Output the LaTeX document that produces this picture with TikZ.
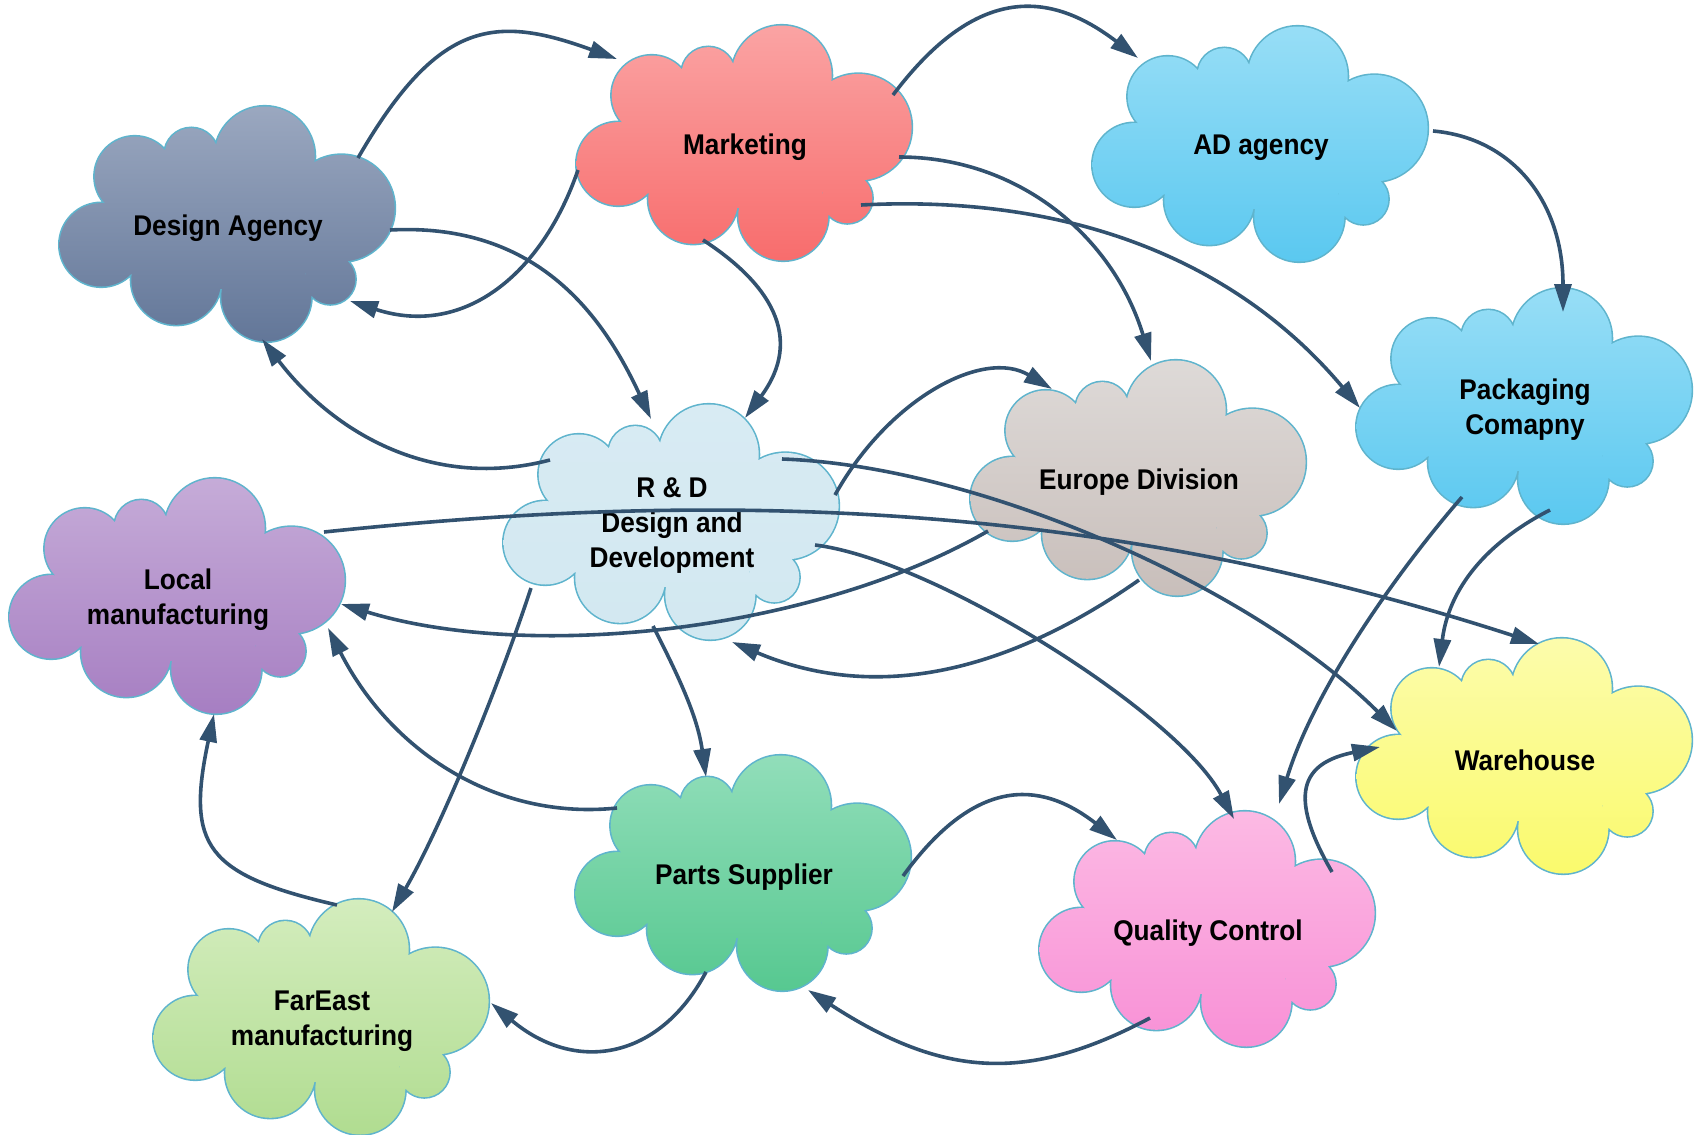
\documentclass[tikz,border=0pt]{standalone}
\usepackage{fontspec}
\setmainfont{Liberation Sans}[FakeStretch=0.92]
\usetikzlibrary{arrows.meta,calc}
\definecolor{arrowc}{RGB}{50,82,112}
\definecolor{cloudedge}{RGB}{95,180,205}
\definecolor{daT}{RGB}{155,168,192}\definecolor{daB}{RGB}{98,118,152}
\definecolor{mkT}{RGB}{250,164,164}\definecolor{mkB}{RGB}{248,108,108}
\definecolor{adT}{RGB}{152,222,246}\definecolor{adB}{RGB}{90,200,240}
\definecolor{euT}{RGB}{222,218,216}\definecolor{euB}{RGB}{200,190,186}
\definecolor{rdT}{RGB}{216,235,243}\definecolor{rdB}{RGB}{210,232,241}
\definecolor{lmT}{RGB}{198,172,216}\definecolor{lmB}{RGB}{166,126,194}
\definecolor{whT}{RGB}{252,252,172}\definecolor{whB}{RGB}{250,250,108}
\definecolor{psT}{RGB}{146,222,186}\definecolor{psB}{RGB}{86,200,144}
\definecolor{qcT}{RGB}{252,186,228}\definecolor{qcB}{RGB}{248,144,214}
\definecolor{feT}{RGB}{212,237,190}\definecolor{feB}{RGB}{176,220,144}
\newcommand\cloudbody[4]{%
  \begin{scope}[shift={(#1,#2)}]
    \draw[cloudedge, line width=3.2pt]
      (-126.7,-20.8) circle (41.7pt) (-51.7,-55.8) circle (45pt)
      (38.3,-72.5) circle (45pt) (102.3,-55.2) circle (25pt)
      (113.3,15.8) circle (53.3pt) (36.7,67.5) circle (50pt)
      (-36.7,69.2) circle (26.7pt) (-93.3,47.5) circle (40pt);
    \begin{scope}
      \clip
      (-126.7,-20.8) circle (41.7pt) (-51.7,-55.8) circle (45pt)
      (38.3,-72.5) circle (45pt) (102.3,-55.2) circle (25pt)
      (113.3,15.8) circle (53.3pt) (36.7,67.5) circle (50pt)
      (-36.7,69.2) circle (26.7pt) (-93.3,47.5) circle (40pt)
      (0,0) ellipse (120pt and 65pt);
      \shade[top color=#3, bottom color=#4] (-175,-120) rectangle (175,120);
    \end{scope}
  \end{scope}}
\begin{document}
\begin{tikzpicture}[x=1pt,y=1pt,
  lbl/.style={font=\bfseries\fontsize{28.5}{35}\selectfont, align=center, text=black, inner sep=0pt},
  conn/.style={draw=arrowc, line width=3.6pt, -{Triangle[length=28pt,width=17pt]}}]
\useasboundingbox (0,0) rectangle (1698,-1135);
% clouds
\cloudbody{228}{-224}{daT}{daB}
\cloudbody{745}{-143}{mkT}{mkB}
\cloudbody{1261}{-144}{adT}{adB}
\cloudbody{1525}{-406}{adT}{adB}
\cloudbody{1139}{-478}{euT}{euB}
\cloudbody{672}{-522}{rdT}{rdB}
\cloudbody{178}{-596}{lmT}{lmB}
\cloudbody{1525}{-756}{whT}{whB}
\cloudbody{744}{-873}{psT}{psB}
\cloudbody{1208}{-929}{qcT}{qcB}
\cloudbody{322}{-1017}{feT}{feB}
% labels
\node[lbl] (da) at (228,-228) {Design Agency};
\node[lbl] (mk) at (745,-147) {Marketing};
\node[lbl] (ad) at (1261,-148) {AD agency};
\node[lbl] (pk) at (1525,-410) {Packaging\\Comapny};
\node[lbl] (eu) at (1139,-482) {Europe Division};
\node[lbl] (rd) at (672,-526) {R \& D\\Design and\\Development};
\node[lbl] (lm) at (178,-600) {Local\\manufacturing};
\node[lbl] (wh) at (1525,-760) {Warehouse};
\node[lbl] (ps) at (744,-877) {Parts Supplier};
\node[lbl] (qc) at (1208,-933) {Quality Control};
\node[lbl] (fe) at (322,-1021) {FarEast\\manufacturing};
% connectors
\draw[conn] ($(da)+(130,70)$) .. controls +(60:160) and +(160:130) .. ($(mk)+(-128,88)$);
\draw[conn] ($(mk)+(-167,-23)$) .. controls +(251:110) and +(-18:120) .. ($(da)+(122,-73)$);
\draw[conn] ($(da)+(162,-2)$) .. controls +(3:150) and +(115:110) .. ($(rd)+(-21,107)$);
\draw[conn] ($(mk)+(-42,-93)$) .. controls +(-33:80) and +(53.5:100) .. ($(rd)+(73,108)$);
\draw[conn] ($(rd)+(-122,66)$) .. controls +(194.7:120) and +(-52.6:120) .. ($(da)+(34,-111)$);
\draw[conn] ($(mk)+(148,52)$) .. controls +(53:140) and +(142.6:110) .. ($(ad)+(-123,90)$);
\draw[conn] ($(mk)+(154,-10)$) .. controls +(0:120) and +(107:130) .. ($(eu)+(12,121)$);
\draw[conn] ($(mk)+(116,-58)$) .. controls +(3:200) and +(130:200) .. ($(pk)+(-165,2)$);
\draw[conn] ($(ad)+(172,17)$) .. controls +(-5:80) and +(90:110) .. ($(pk)+(38,98)$);
\draw[conn] ($(rd)+(163,31)$) .. controls +(61:110) and +(149:80) .. ($(eu)+(-87,93)$);
\draw[conn] ($(rd)+(110,67)$) .. controls +(-2:200) and +(135:200) .. ($(wh)+(-128,29)$);
\draw[conn] ($(lm)+(146,68)$) .. controls +(6:350) and +(162:500) .. ($(wh)+(14,116)$);
\draw[conn] ($(eu)+(-151,-49)$) .. controls +(210:200) and +(-17:200) .. ($(lm)+(163,-4)$);
\draw[conn] ($(eu)+(0,-98)$) .. controls +(215:170) and +(-23:150) .. ($(rd)+(60,-116)$);
\draw[conn] ($(rd)+(143,-19)$) .. controls +(-7:120) and +(118:120) .. ($(qc)+(26,114)$);
\draw[conn] ($(rd)+(-19,-100)$) .. controls +(-63:60) and +(98:60) .. ($(ps)+(-38,100)$);
\draw[conn] ($(rd)+(-141,-62)$) .. controls +(251.8:100) and +(60:100) .. ($(fe)+(70,109)$);
\draw[conn] ($(ps)+(-127,69)$) .. controls +(186:120) and +(-63:140) .. ($(lm)+(150,-28)$);
\draw[conn] ($(fe)+(15,116)$) .. controls +(167:135) and +(-102:135) .. ($(lm)+(36,-114)$);
\draw[conn] ($(ps)+(-38,-95)$) .. controls +(242:100) and +(-40:110) .. ($(fe)+(169,18)$);
\draw[conn] ($(ps)+(159,1)$) .. controls +(54:120) and +(142:100) .. ($(qc)+(-91,93)$);
\draw[conn] ($(qc)+(-58,-85)$) .. controls +(208:140) and +(-33:160) .. ($(ps)+(64,-113)$);
\draw[conn] ($(pk)+(-63,-87)$) .. controls +(229:100) and +(73:120) .. ($(qc)+(71,129)$);
\draw[conn] ($(pk)+(25,-100)$) .. controls +(207:70) and +(83:80) .. ($(wh)+(-86,93)$);
\draw[conn] ($(qc)+(124,61)$) .. controls +(120:90) and +(191.5:80) .. ($(wh)+(-145,13)$);
\end{tikzpicture}
\end{document}
